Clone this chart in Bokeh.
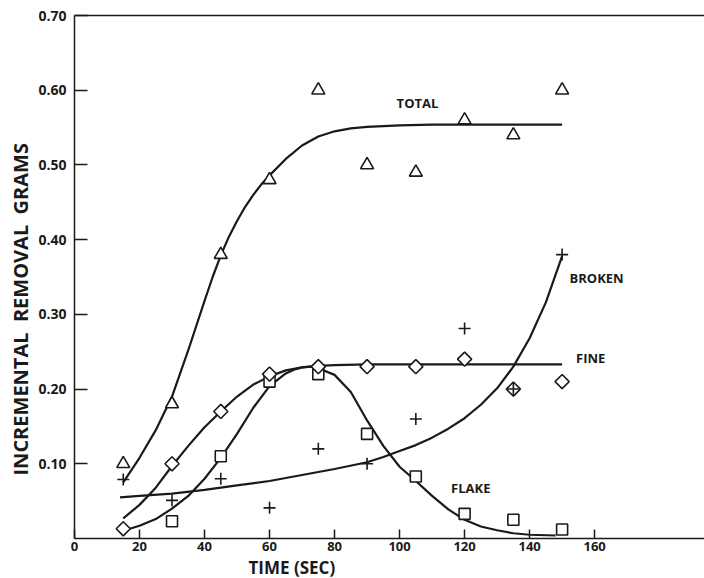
import math
from bokeh.plotting import figure
from bokeh.models import FixedTicker, LinearAxis, Label, NumeralTickFormatter, Title
from bokeh.embed import file_html
from bokeh.resources import INLINE

# ---- data ----
time = [15, 30, 45, 60, 75, 90, 105, 120, 135, 150]
total = [0.10, 0.18, 0.38, 0.48, 0.60, 0.50, 0.49, 0.56, 0.54, 0.60]
fine = [0.013, 0.10, 0.17, 0.22, 0.23, 0.23, 0.23, 0.24, 0.20, 0.21]
broken = [0.079, 0.051, 0.080, 0.041, 0.12, 0.10, 0.16, 0.281, 0.20, 0.38]
flake_time = [30, 45, 60, 75, 90, 105, 120, 135, 150]
flake = [0.023, 0.11, 0.21, 0.22, 0.14, 0.083, 0.033, 0.025, 0.012]

# fitted curves
total_fit_x = [15, 20, 25, 30, 35, 40, 42.5, 45, 47.5, 50, 52.5, 55, 57.5, 60, 65, 70, 75, 80,
               85, 90, 100, 110, 120, 150]
total_fit_y = [0.075, 0.108, 0.145, 0.19, 0.252, 0.318, 0.35, 0.379, 0.404, 0.425, 0.444, 0.46,
               0.474, 0.486, 0.508, 0.526, 0.538, 0.545, 0.549, 0.551, 0.553, 0.554, 0.554, 0.554]
fine_fit_x = [15, 20, 25, 30, 35, 40, 45, 50, 55, 60, 65, 70, 75, 80, 90, 150]
fine_fit_y = [0.027, 0.045, 0.068, 0.097, 0.124, 0.149, 0.170, 0.190, 0.206, 0.217, 0.225,
              0.229, 0.231, 0.232, 0.233, 0.233]
flake_fit_x = [17, 20, 25, 30, 35, 40, 45, 50, 55, 60, 65, 67.5, 70, 72.5, 75, 80, 85, 90, 95,
               100, 105, 110, 115, 120, 125, 130, 135, 140, 148]
flake_fit_y = [0.013, 0.017, 0.026, 0.040, 0.057, 0.080, 0.108, 0.140, 0.175, 0.204, 0.221,
               0.226, 0.229, 0.23, 0.228, 0.219, 0.196, 0.158, 0.124, 0.096, 0.077, 0.057,
               0.039, 0.025, 0.016, 0.011, 0.007, 0.005, 0.004]
broken_fit_x = [14, 20, 30, 40, 50, 60, 70, 80, 90, 95, 100, 105, 110, 115, 120, 125, 130, 135,
                140, 145, 150]
broken_fit_y = [0.055, 0.057, 0.060, 0.065, 0.071, 0.077, 0.085, 0.093, 0.102, 0.109, 0.117,
                0.125, 0.135, 0.147, 0.161, 0.179, 0.201, 0.230, 0.268, 0.316, 0.378]

x_ticks = [0, 20, 40, 60, 80, 100, 120, 140, 160]
y_ticks = [0.10, 0.20, 0.30, 0.40, 0.50, 0.60, 0.70]

series_labels = ["TOTAL", "BROKEN", "FINE", "FLAKE"]
label_x = [105.5, 160.6, 158.8, 121.9]
label_y = [0.583, 0.348, 0.241, 0.068]

FONT = "Open Sans"
INK = "#1a1a1a"

p = figure(width=704, height=578, x_range=(0, 193.8), y_range=(0, 0.70),
           output_backend="svg", toolbar_location=None,
           min_border_left=74, min_border_right=0, min_border_top=15, min_border_bottom=40)
p.outline_line_color = None
p.xgrid.visible = False
p.ygrid.visible = False
p.background_fill_color = "white"

for ax in (p.xaxis[0], p.yaxis[0]):
    ax.axis_line_color = INK
    ax.axis_line_width = 1.5
    ax.major_tick_line_color = INK
    ax.major_tick_line_width = 1.5
    ax.major_tick_out = 0
    ax.minor_tick_line_color = None
    ax.major_label_text_font = FONT
    ax.major_label_text_font_style = "bold"
    ax.major_label_text_font_size = "13px"
    ax.major_label_text_color = INK

p.xaxis.ticker = FixedTicker(ticks=x_ticks)
p.xaxis.major_tick_in = 9
p.xaxis.major_label_standoff = 3
p.yaxis.ticker = FixedTicker(ticks=y_ticks)
p.yaxis.major_tick_in = 13
p.yaxis.major_label_standoff = 8
p.yaxis.major_label_text_font_size = "14px"
p.yaxis.formatter = NumeralTickFormatter(format="0.00")

top = LinearAxis(ticker=FixedTicker(ticks=[]), axis_line_color=INK, axis_line_width=1.5,
                 major_tick_line_color=None, minor_tick_line_color=None,
                 major_label_text_font_size="0px")
p.add_layout(top, "above")

# axis titles
nb = "\u00a0\u00a0"
p.add_layout(Title(text="INCREMENTAL" + nb + "REMOVAL" + nb + "GRAMS", align="left", offset=63,
                   text_font=FONT, text_font_style="bold", text_font_size="20px",
                   text_color=INK, standoff=4), "left")
p.add_layout(Title(text="TIME (SEC)", align="left", offset=174,
                   text_font=FONT, text_font_style="bold", text_font_size="17px",
                   text_color=INK, standoff=0), "below")

# curves
p.line(total_fit_x, total_fit_y, line_color=INK, line_width=2.2)
p.line(fine_fit_x, fine_fit_y, line_color=INK, line_width=2.2)
p.line(flake_fit_x, flake_fit_y, line_color=INK, line_width=2.2)
p.line(broken_fit_x, broken_fit_y, line_color=INK, line_width=2.2)

# markers
p.scatter(time, total, marker="triangle", size=13, fill_color="white", line_color=INK, line_width=1.6)
p.scatter(flake_time, flake, marker="square", size=11, fill_color="white", line_color=INK, line_width=1.6)
p.scatter(time, fine, marker="square", angle=math.pi / 4, size=10, fill_color="white", line_color=INK, line_width=1.6)
p.scatter(time, broken, marker="cross", size=12, line_color=INK, line_width=1.6)

for t, lx, ly in zip(series_labels, label_x, label_y):
    p.add_layout(Label(x=lx, y=ly, text=t, text_font=FONT, text_font_style="bold",
                       text_font_size="13px", text_color=INK, text_align="center",
                       text_baseline="middle"))

open("out.html", "w").write(file_html(p, INLINE))
